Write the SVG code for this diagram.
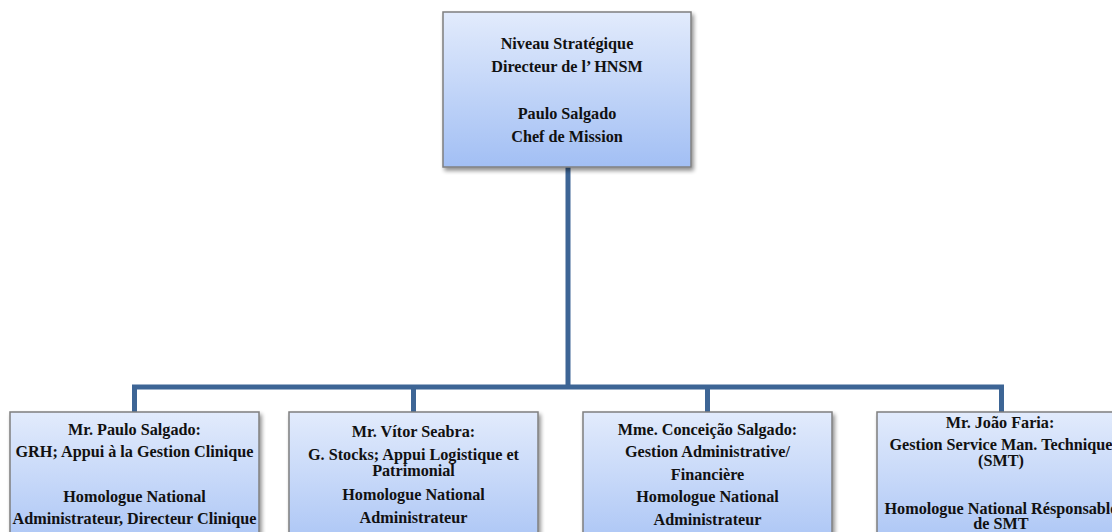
<svg xmlns="http://www.w3.org/2000/svg" width="1112" height="532" viewBox="0 0 1112 532">
<defs>
<linearGradient id="g" x1="0" y1="0" x2="0" y2="1">
<stop offset="0" stop-color="#e2ebfc"/>
<stop offset="1" stop-color="#a2bff4"/>
</linearGradient>
<filter id="sh" x="-10%" y="-10%" width="130%" height="130%">
<feGaussianBlur in="SourceAlpha" stdDeviation="2"/>
<feOffset dx="2" dy="3" result="b"/>
<feComponentTransfer><feFuncA type="linear" slope="0.45"/></feComponentTransfer>
<feMerge><feMergeNode/><feMergeNode in="SourceGraphic"/></feMerge>
</filter>
</defs>
<style>
.box{fill:url(#g);stroke:#7f7f7f;stroke-width:1.5;filter:url(#sh)}
.t{font-family:"Liberation Serif","Times New Roman",serif;font-weight:bold;font-size:16.2px;fill:#111;text-anchor:middle}
.c{fill:none;stroke:#3d6595;stroke-width:5}
</style>
<rect width="1112" height="532" fill="#fff"/>
<g id="connectors">
<path class="c" d="M568 167 V387"/>
<path class="c" d="M134.5 412 V387 H1001.5 V412"/>
<path class="c" d="M413.5 387 V412"/>
<path class="c" d="M707.5 387 V412"/>
</g>
<g id="top">
<rect class="box" x="443" y="12" width="248" height="155"/>
<text class="t" x="567" y="49">Niveau Stratégique</text>
<text class="t" x="567" y="72">Directeur de l’ HNSM</text>
<text class="t" x="567" y="119">Paulo Salgado</text>
<text class="t" x="567" y="142">Chef de Mission</text>
</g>
<g id="n1">
<rect class="box" x="10" y="412" width="249" height="155"/>
<text class="t" x="134.5" y="435">Mr. Paulo Salgado:</text>
<text class="t" x="134.5" y="457">GRH; Appui à la Gestion Clinique</text>
<text class="t" x="134.5" y="502">Homologue National</text>
<text class="t" x="134.5" y="524">Administrateur, Directeur Clinique</text>
</g>
<g id="n2">
<rect class="box" x="289" y="412" width="249" height="155"/>
<text class="t" x="413.5" y="437">Mr. Vítor Seabra:</text>
<text class="t" x="413.5" y="460">G. Stocks; Appui Logistique et</text>
<text class="t" x="413.5" y="476">Patrimonial</text>
<text class="t" x="413.5" y="500">Homologue National</text>
<text class="t" x="413.5" y="523">Administrateur</text>
</g>
<g id="n3">
<rect class="box" x="583" y="412" width="249" height="155"/>
<text class="t" x="707.5" y="435">Mme. Conceição Salgado:</text>
<text class="t" x="707.5" y="457">Gestion Administrative/</text>
<text class="t" x="707.5" y="480">Financière</text>
<text class="t" x="707.5" y="502">Homologue National</text>
<text class="t" x="707.5" y="525">Administrateur</text>
</g>
<g id="n4">
<rect class="box" x="877" y="412" width="249" height="155"/>
<text class="t" x="1000" y="428">Mr. João Faria:</text>
<text class="t" x="1001" y="450">Gestion Service Man. Technique</text>
<text class="t" x="1001" y="466">(SMT)</text>
<text class="t" x="1001" y="514">Homologue National Résponsable</text>
<text class="t" x="1001" y="529">de SMT</text>
</g>
</svg>
